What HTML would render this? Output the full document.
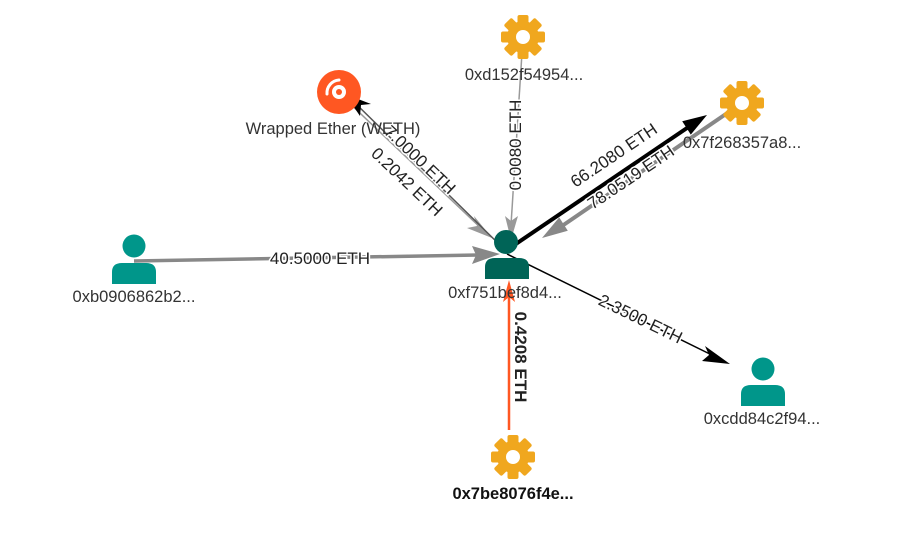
<!DOCTYPE html>
<html><head><meta charset="utf-8"><style>
html,body{margin:0;padding:0;background:#fff;width:918px;height:536px;overflow:hidden}
svg{display:block}
text{font-family:"Liberation Sans",Arial,sans-serif;font-size:16.5px;fill:#333}
.lbl{fill:#222;paint-order:stroke;stroke:#fff;stroke-width:3px;font-size:17px}
</style></head><body>
<svg width="918" height="536" viewBox="0 0 918 536" xmlns="http://www.w3.org/2000/svg">
<defs>
<g id="gear">
  <g fill="#F0A71E">
    <circle r="16"/>
    <rect x="-5.5" y="-22" width="11" height="44" rx="2"/>
    <rect x="-5.5" y="-22" width="11" height="44" rx="2" transform="rotate(45)"/>
    <rect x="-5.5" y="-22" width="11" height="44" rx="2" transform="rotate(90)"/>
    <rect x="-5.5" y="-22" width="11" height="44" rx="2" transform="rotate(135)"/>
  </g>
  <circle r="7" fill="#fff"/>
</g>
</defs>

<!-- 40.5 -->
<line x1="134" y1="261" x2="478" y2="255" stroke="#888" stroke-width="3.5"/>
<polygon points="500,254 472,246 476,255 472,264" fill="#888"/>
<!-- WETH 0.2042 gray thin -->
<line x1="342" y1="96" x2="485" y2="232" stroke="#999" stroke-width="1.5"/>
<polygon points="492,238 474,216 477,226 467,228" fill="#999"/>
<!-- 7.0000 black -->
<line x1="505" y1="250" x2="352" y2="100" stroke="#555" stroke-width="1.5"/>
<polygon points="345,94 360,116 361,105 371,104" fill="#000"/>
<!-- 0.0080 -->
<line x1="523" y1="37" x2="511" y2="225" stroke="#999" stroke-width="1.5"/>
<polygon points="511,240 505,216 511,221 518,216" fill="#999"/>
<!-- 66.2080 black thick -->
<line x1="507" y1="250" x2="690" y2="126" stroke="#000" stroke-width="4"/>
<polygon points="707,115 690.8,134.6 682.2,121.2" fill="#000"/>
<!-- 78.0519 gray thick -->
<line x1="742" y1="103" x2="562" y2="226" stroke="#888" stroke-width="4"/>
<polygon points="542,238 567.8,230.8 559.2,217.4" fill="#888"/>
<!-- 2.3500 -->
<line x1="507" y1="254" x2="722" y2="360" stroke="#000" stroke-width="1.5"/>
<polygon points="730,364 705,346 709,355 702,361" fill="#000"/>
<!-- 0.4208 orange -->
<line x1="509" y1="430" x2="509" y2="290" stroke="#FF5722" stroke-width="2.5"/>
<polygon points="509,280 503,302 509,297 515,302" fill="#FF5722"/>

<!-- edge labels -->
<text class="lbl" x="320" y="264" text-anchor="middle">40.5000 ETH</text>
<text class="lbl" transform="translate(416,164) rotate(43.5)" text-anchor="middle">7.0000 ETH</text>
<text class="lbl" transform="translate(403,186) rotate(43.5)" text-anchor="middle">0.2042 ETH</text>
<text class="lbl" transform="translate(521,145) rotate(-90)" text-anchor="middle">0.0080 ETH</text>
<text class="lbl" transform="translate(617,160) rotate(-34)" text-anchor="middle">66.2080 ETH</text>
<text class="lbl" transform="translate(634,182) rotate(-34)" text-anchor="middle">78.0519 ETH</text>
<text class="lbl" transform="translate(638,324) rotate(26)" text-anchor="middle">2.3500 ETH</text>
<text class="lbl" transform="translate(515,357) rotate(90)" text-anchor="middle" style="font-weight:bold">0.4208 ETH</text>

<!-- WETH -->
<circle cx="339" cy="92" r="22" fill="#FF5722"/>
<circle cx="339" cy="92" r="7" fill="#fff"/>
<circle cx="339" cy="92" r="3" fill="#FF5722"/>
<path d="M327 94 A13 13 0 0 1 339 80" fill="none" stroke="#fff" stroke-width="3" stroke-linecap="round"/>
<text x="333" y="134" text-anchor="middle">Wrapped Ether (WETH)</text>

<use href="#gear" x="523" y="37"/>
<text x="524" y="80" text-anchor="middle">0xd152f54954...</text>
<use href="#gear" x="742" y="103"/>
<text x="742" y="148" text-anchor="middle">0x7f268357a8...</text>
<use href="#gear" x="513" y="457"/>
<text x="513" y="499" text-anchor="middle" style="font-weight:bold;fill:#111">0x7be8076f4e...</text>

<g fill="#00968A">
  <circle cx="134" cy="246" r="11.5"/>
  <path d="M112 284 V272 Q112 263 122 263 H146 Q156 263 156 272 V284 Z"/>
  <circle cx="763" cy="369" r="11.5"/>
  <path d="M741 406 V394 Q741 385 751 385 H775 Q785 385 785 394 V406 Z"/>
</g>
<g fill="#006457">
  <circle cx="506" cy="242" r="12"/>
  <path d="M485 279 V267 Q485 258 495 258 H519 Q529 258 529 267 V279 Z"/>
</g>
<text x="134" y="302" text-anchor="middle">0xb0906862b2...</text>
<text x="505" y="298" text-anchor="middle">0xf751bef8d4...</text>
<text x="762" y="424" text-anchor="middle">0xcdd84c2f94...</text>
</svg>
</body></html>
